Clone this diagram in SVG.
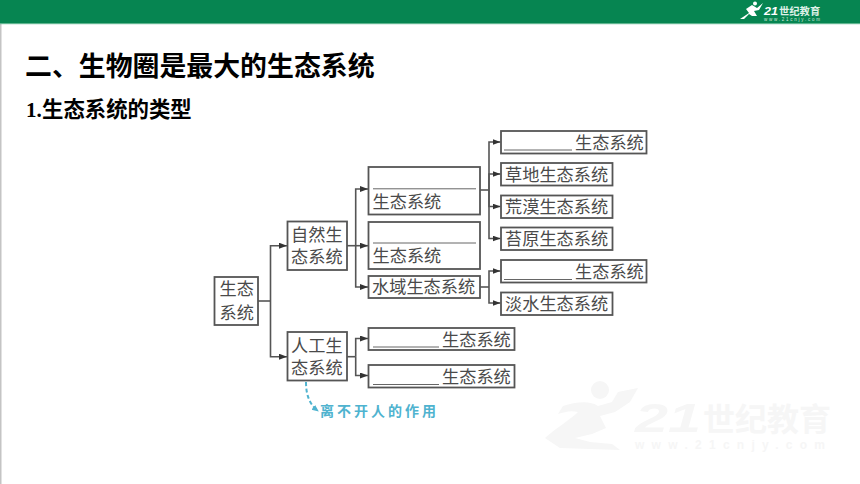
<svg xmlns="http://www.w3.org/2000/svg" width="860" height="484" viewBox="0 0 860 484">
<style>
.cjk{font-family:"Liberation Serif","Noto Sans CJK SC",sans-serif}
.t{font-family:"Liberation Serif","Noto Sans CJK SC",sans-serif;font-size:17.2px;fill:#4a4a4a;font-weight:400}
.box{fill:#fff;stroke:#555;stroke-width:1.8}
.line{fill:none;stroke:#555;stroke-width:1.6}
.blank{stroke:#666;stroke-width:1}
.wm{fill:#f6f6f6}
</style>
<defs>
<marker id="arr" markerUnits="userSpaceOnUse" markerWidth="9" markerHeight="7" refX="8" refY="3" orient="auto"><path d="M0 0L8 3L0 6Z" fill="#333"/></marker>
<marker id="arrb" markerUnits="userSpaceOnUse" markerWidth="8" markerHeight="8" refX="6" refY="3" orient="auto"><path d="M0 0L7 3L0 6Z" fill="#4fb3cf"/></marker>
</defs>
<rect width="860" height="484" fill="#fff"/>
<rect x="0" y="0" width="1.5" height="484" fill="#c4c4c4"/>
<g id="header">
<rect x="0" y="0" width="860" height="23" fill="#068551"/>
<rect x="0" y="23" width="860" height="1.2" fill="#5fb58f"/>
<path d="M740 19L749 13L746 9L752 5L757 8L763 3L759 10L754 11L757 16L752 16L749 14L744 19Z" fill="#fff"/>
<circle cx="755" cy="3.500" r="2" fill="#fff"/>
<text x="764" y="15" font-family="Liberation Sans,sans-serif" font-size="11" font-weight="700" font-style="italic" fill="#fff" textLength="14" lengthAdjust="spacingAndGlyphs">21</text>
<text x="779" y="15" class="cjk" font-size="10.300" font-weight="700" fill="#dff1e8">世纪教育</text>
<text x="764" y="20.500" font-family="Liberation Sans,sans-serif" font-size="4.500" fill="#cfe8da" textLength="56">www.21cnjy.com</text>
</g>
<g id="watermark">
<path class="wm" d="M545 438C560 425 570 420 578 412C570 410 565 412 558 414L563 406C575 402 590 400 598 406L612 402L618 392L638 388L630 402L615 412L600 416L606 428L592 434L575 438L590 442L612 444L620 450L560 448Z"/>
<circle class="wm" cx="600" cy="390" r="9"/>
<text x="635" y="432" class="wm" font-family="Liberation Sans,sans-serif" font-size="41" font-weight="700" font-style="italic" textLength="66" lengthAdjust="spacingAndGlyphs">21</text>
<text x="703" y="431" class="wm cjk" font-size="32" font-weight="700">世纪教育</text>
<text x="635" y="449" class="wm" font-family="Liberation Sans,sans-serif" font-size="12" font-weight="700" textLength="190">www.21cnjy.com</text>
</g>
<g id="title">
<text x="25" y="76" class="cjk" font-size="26.900" font-weight="700" fill="#000">二、生物圈是最大的生态系统</text>
<text x="26" y="117" font-family="Liberation Serif,serif" font-size="21" font-weight="700" fill="#000">1.</text>
<text x="42" y="117" class="cjk" font-size="21.400" font-weight="700" fill="#000">生态系统的类型</text>
</g>
<g id="connectors">
<path class="line" d="M258 301H270.500"/>
<path class="line" marker-end="url(#arr)" d="M270.500 301V245.700H287"/>
<path class="line" marker-end="url(#arr)" d="M270.500 301V356.700H287"/>
<path class="line" marker-end="url(#arr)" d="M347 245.700H368"/>
<path class="line" marker-end="url(#arr)" d="M355.700 245.700V189H368"/>
<path class="line" marker-end="url(#arr)" d="M355.700 245.700V287H368"/>
<path class="line" d="M480 190H489"/>
<path class="line" marker-end="url(#arr)" d="M489 190V142H500.500"/>
<path class="line" marker-end="url(#arr)" d="M489 190V174H500.500"/>
<path class="line" marker-end="url(#arr)" d="M489 190V206.500H500.500"/>
<path class="line" marker-end="url(#arr)" d="M489 190V238.500H500.500"/>
<path class="line" d="M480 287H489"/>
<path class="line" marker-end="url(#arr)" d="M489 287V271H500.500"/>
<path class="line" marker-end="url(#arr)" d="M489 287V303H500.500"/>
<path class="line" d="M347 356.700H355.700"/>
<path class="line" marker-end="url(#arr)" d="M355.700 356.700V338.500H368"/>
<path class="line" marker-end="url(#arr)" d="M355.700 356.700V375.500H368"/>
<path fill="none" stroke="#4fb3cf" stroke-width="2" stroke-dasharray="4 2.500" marker-end="url(#arrb)" d="M306 382C306 394 309 404 318 411"/>
</g>
<g id="root"><rect class="box" x="214.500" y="277" width="43.500" height="48"/><text class="t" x="219.500" y="295">生态</text><text class="t" x="219.500" y="319">系统</text></g>
<g id="natural"><rect class="box" x="287.500" y="221.500" width="59.500" height="48.500"/><text class="t" x="291" y="241">自然生</text><text class="t" x="291" y="263">态系统</text></g>
<g id="artificial"><rect class="box" x="287.500" y="332" width="59.500" height="48.500"/><text class="t" x="291" y="352">人工生</text><text class="t" x="291" y="374">态系统</text></g>
<g id="land1"><rect class="box" x="368.500" y="167" width="111.500" height="47.500"/><line class="blank" x1="373" y1="188.800" x2="476" y2="188.800"/><text class="t" x="372.500" y="208">生态系统</text></g>
<g id="land2"><rect class="box" x="368.500" y="222" width="111.500" height="47"/><line class="blank" x1="373" y1="243" x2="476" y2="243"/><text class="t" x="372.500" y="262">生态系统</text></g>
<g id="water"><rect class="box" x="368.500" y="276" width="111.500" height="22"/><text class="t" x="372" y="293">水域生态系统</text></g>
<g id="r1"><rect class="box" x="501" y="131" width="145.500" height="22.500"/><line class="blank" x1="504" y1="150" x2="572" y2="150"/><text class="t" x="575" y="148.500">生态系统</text></g>
<g id="r2"><rect class="box" x="501" y="163" width="111.500" height="22.500"/><text class="t" x="505" y="180.500">草地生态系统</text></g>
<g id="r3"><rect class="box" x="501" y="195.500" width="111.500" height="22.500"/><text class="t" x="505" y="213">荒漠生态系统</text></g>
<g id="r4"><rect class="box" x="501" y="227.500" width="111.500" height="22.500"/><text class="t" x="505" y="245">苔原生态系统</text></g>
<g id="r5"><rect class="box" x="501" y="260" width="145.500" height="22.500"/><line class="blank" x1="504" y1="279.500" x2="572" y2="279.500"/><text class="t" x="575" y="277.500">生态系统</text></g>
<g id="r6"><rect class="box" x="501" y="292.500" width="111.500" height="22.500"/><text class="t" x="505" y="310">淡水生态系统</text></g>
<g id="a1"><rect class="box" x="368.500" y="328" width="146" height="22"/><line class="blank" x1="373" y1="347" x2="439" y2="347"/><text class="t" x="442" y="345.500">生态系统</text></g>
<g id="a2"><rect class="box" x="368.500" y="365" width="146" height="22.500"/><line class="blank" x1="373" y1="384.500" x2="439" y2="384.500"/><text class="t" x="442" y="382.500">生态系统</text></g>
<g id="note"><text x="320" y="416" class="cjk" font-size="14" font-weight="700" letter-spacing="3" fill="#4fb3cf">离不开人的作用</text></g>
</svg>
